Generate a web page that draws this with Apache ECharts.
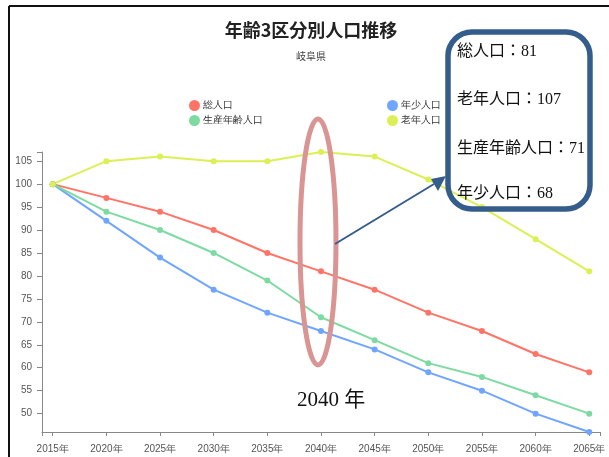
<!DOCTYPE html>
<html lang="ja">
<head>
<meta charset="UTF-8">
<title>年齢3区分別人口推移</title>
<script src="https://cdn.jsdelivr.net/npm/echarts@6/dist/echarts.min.js"></script>
<style>
  html, body { margin: 0; padding: 0; background: #fff; }
</style>
</head>
<body>
<div id="main" style="width:609px;height:457px;"></div>
<script type="text/javascript">
// years on x axis
var years = [2015, 2020, 2025, 2030, 2035, 2040, 2045, 2050, 2055, 2060, 2065];
// index values (2015 = 100)
var total = [100, 97, 94, 90, 85, 81, 77, 72, 68, 63, 59];
var youth = [100, 92, 84, 77, 72, 68, 64, 59, 55, 50, 46];
var working = [100, 94, 90, 85, 79, 71, 66, 61, 58, 54, 50];
var elderly = [100, 105, 106, 105, 105, 107, 106, 101, 95, 88, 81];
var yTicks = [50, 55, 60, 65, 70, 75, 80, 85, 90, 95, 100, 105];

var colors = {
  total: '#ff7466',
  youth: '#6fa5ff',
  working: '#7ddba2',
  elderly: '#dcef55'
};

function pairs(vals) {
  return years.map(function (y, i) { return [y, vals[i]]; });
}

function lineSeries(name, vals, color) {
  return {
    name: name,
    type: 'line',
    data: pairs(vals),
    symbol: 'circle',
    symbolSize: 6,
    lineStyle: { width: 2, color: color },
    itemStyle: { color: color },
    emphasis: { disabled: true },
    z: 2
  };
}

var myChart = echarts.init(document.getElementById('main'));

var serif = '"Liberation Serif", "Noto Sans CJK JP", serif';

var option = {
  animation: false,
  title: [
    {
      text: '年齢3区分別人口推移',
      subtext: '岐阜県',
      left: 306,
      textAlign: 'center',
      top: 16,
      itemGap: 12,
      textStyle: { fontSize: 18, fontWeight: 'bold', color: '#222', fontFamily: '"Noto Sans CJK JP", sans-serif' },
      subtextStyle: { fontSize: 10, color: '#444', fontFamily: '"Noto Sans CJK JP", sans-serif' }
    }
  ],
  legend: [
    {
      data: ['総人口', '生産年齢人口'],
      orient: 'vertical',
      left: 184,
      top: 95,
      itemGap: 4,
      itemWidth: 11,
      itemHeight: 11,
      icon: 'circle',
      textStyle: { fontSize: 10, color: '#333', padding: [0, 0, 0, -2] }
    },
    {
      data: ['年少人口', '老年人口'],
      orient: 'vertical',
      left: 382,
      top: 95,
      itemGap: 4,
      itemWidth: 11,
      itemHeight: 11,
      icon: 'circle',
      textStyle: { fontSize: 10, color: '#333', padding: [0, 0, 0, -2] }
    }
  ],
  grid: { left: 42, right: 9, top: 152, bottom: 25, containLabel: false },
  xAxis: {
    type: 'value',
    min: 2014,
    max: 2066,
    splitLine: { show: false },
    axisLine: { show: true, lineStyle: { color: '#888', width: 1 } },
    axisTick: { show: true, customValues: [2014].concat(years).concat([2066]), length: 4, inside: false, lineStyle: { color: '#888' } },
    axisLabel: {
      customValues: years,
      formatter: function (v) { return v + '年'; },
      fontSize: 10,
      color: '#555',
      margin: 12
    }
  },
  yAxis: {
    type: 'value',
    min: 46,
    max: 107,
    splitLine: { show: false },
    axisLine: { show: true, lineStyle: { color: '#888', width: 1 } },
    axisTick: { show: true, customValues: yTicks.concat([107]), length: 5, lineStyle: { color: '#888' } },
    axisLabel: { customValues: yTicks, fontSize: 10, color: '#555', margin: 10 }
  },
  series: [
    lineSeries('総人口', total, colors.total),
    lineSeries('年少人口', youth, colors.youth),
    lineSeries('生産年齢人口', working, colors.working),
    lineSeries('老年人口', elderly, colors.elderly)
  ],
  graphic: [
    // frame lines (left and top)
    { type: 'line', shape: { x1: 9, y1: 6, x2: 9, y2: 457 }, style: { stroke: '#111', lineWidth: 2 } },
    { type: 'line', shape: { x1: 9, y1: 6, x2: 609, y2: 6 }, style: { stroke: '#111', lineWidth: 2 } },
    // ellipse around 2040
    { type: 'ellipse', shape: { cx: 318, cy: 242, rx: 18, ry: 123 }, style: { fill: 'none', stroke: '#d99494', lineWidth: 5 }, z: 10 },
    // arrow
    { type: 'line', shape: { x1: 335, y1: 244, x2: 434, y2: 184 }, style: { stroke: '#355d8c', lineWidth: 2 }, z: 10 },
    { type: 'polygon', shape: { points: [[446, 176], [431, 179], [438, 191]] }, style: { fill: '#355d8c' }, z: 10 },
    // annotation box
    { type: 'rect', shape: { x: 448, y: 32, width: 142, height: 177, r: 24 }, style: { fill: 'none', stroke: '#355d8c', lineWidth: 5.5 }, z: 11 },
    { type: 'text', left: 457, top: 44, style: { text: '総人口：81', font: '16px ' + serif, fill: '#111' }, z: 12 },
    { type: 'text', left: 457, top: 92, style: { text: '老年人口：107', font: '16px ' + serif, fill: '#111' }, z: 12 },
    { type: 'text', left: 457, top: 141, style: { text: '生産年齢人口：71', font: '16px ' + serif, fill: '#111' }, z: 12 },
    { type: 'text', left: 457, top: 186, style: { text: '年少人口：68', font: '16px ' + serif, fill: '#111' }, z: 12 },
    // 2040 label
    { type: 'text', left: 297, top: 390, style: { text: '2040 年', font: '21px ' + serif, fill: '#111' }, z: 12 }
  ]
};

myChart.setOption(option);
</script>
</body>
</html>
